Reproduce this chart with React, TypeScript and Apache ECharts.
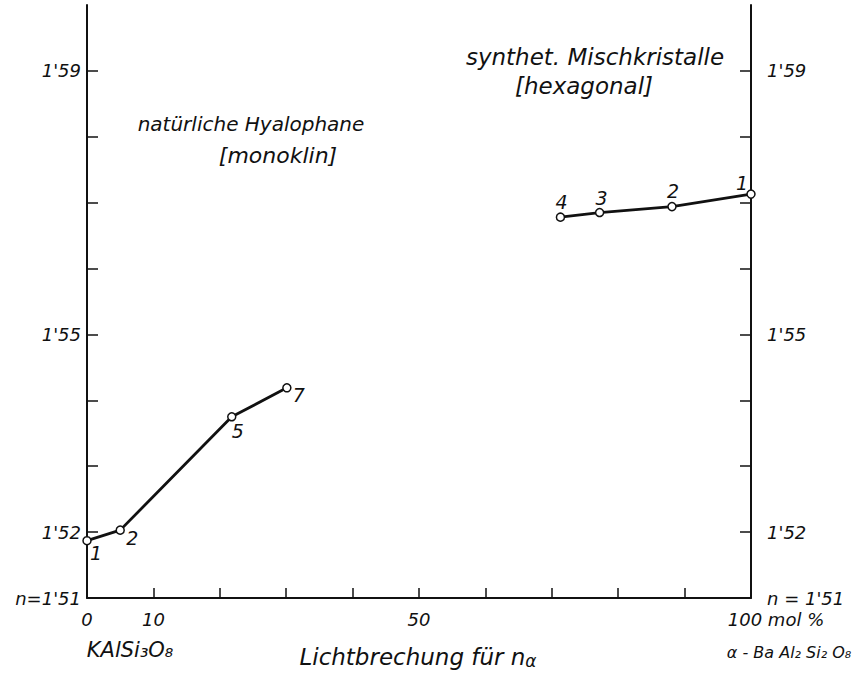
import React, { useEffect, useRef } from "react";
import * as echarts from "echarts";

// ---- data ----
const xTickValues = [10, 20, 30, 40, 50, 60, 70, 80, 90];
const xLabelValues = [0, 10, 50];
const yTickValues = [1.52, 1.53, 1.54, 1.55, 1.56, 1.57, 1.58, 1.59];
const yLabelValues = [1.51, 1.52, 1.55, 1.59];

const naturalIds = ["1", "2", "5", "7"];
const naturalX = [0, 5, 21.8, 30.1];
const naturalY = [1.5187, 1.5203, 1.5375, 1.5419];

const synthIds = ["4", "3", "2", "1"];
const synthX = [71.3, 77.2, 88.1, 100];
const synthY = [1.5678, 1.5685, 1.5694, 1.5713];

// ---- styles ----
const FONT = "'DejaVu Sans', sans-serif";
const INK = "#111";
const naturalLabelOffsets = [[9, 12], [12, 8], [6, 14], [12, 7]];
const synthLabelOffsets = [[1, -15], [2, -15], [1, -16], [-9, -11]];

function fmtY(v: number, right: boolean): string {
  const r = Math.round(v * 100);
  const s = "1'" + String(r - 100);
  if (r === 151) return right ? "n = " + s : "n=" + s;
  return s;
}

function buildData(xs: number[], ys: number[], ids: string[], offs: number[][]) {
  return xs.map((x, i) => ({
    value: [x, ys[i]],
    name: ids[i],
    label: {
      show: true,
      position: "inside",
      offset: offs[i],
      formatter: ids[i],
      fontFamily: FONT,
      fontStyle: "italic",
      fontSize: 19,
      color: INK,
    },
  }));
}

function txt(text: string, x: number, y: number, size: number, rich?: any) {
  return {
    type: "text",
    x,
    y,
    style: {
      text,
      font: `italic ${size}px ${FONT}`,
      fill: INK,
      align: "center",
      verticalAlign: "middle",
      ...(rich ? { rich } : {}),
    },
  };
}

export default function App() {
  const ref = useRef<HTMLDivElement>(null);
  useEffect(() => {
    if (!ref.current) return;
    const chart = echarts.init(ref.current, null, { renderer: "svg" });
    const axisLabelBase = {
      fontFamily: FONT,
      fontStyle: "italic" as const,
      fontSize: 18,
      color: INK,
    };
    const yAxisCommon = (right: boolean) => ({
      type: "value",
      min: 1.51,
      max: 1.6,
      interval: 0.01,
      position: right ? "right" : "left",
      splitLine: { show: false },
      axisLine: { show: true, lineStyle: { color: INK, width: 2 } },
      axisTick: {
        show: true,
        inside: true,
        length: 11,
        customValues: yTickValues,
        lineStyle: { color: INK, width: 1.5 },
      },
      axisLabel: {
        ...axisLabelBase,
        customValues: yLabelValues,
        margin: right ? 16 : 6,
        formatter: (v: number) => fmtY(v, right),
      },
    });
    const series = [
      { ids: naturalIds, xs: naturalX, ys: naturalY, offs: naturalLabelOffsets },
      { ids: synthIds, xs: synthX, ys: synthY, offs: synthLabelOffsets },
    ].map((s) => ({
      type: "line",
      clip: false,
      data: buildData(s.xs, s.ys, s.ids, s.offs),
      symbol: "circle",
      symbolSize: 8,
      showAllSymbol: true,
      lineStyle: { color: INK, width: 2.8 },
      itemStyle: { color: "#fff", borderColor: INK, borderWidth: 1.5 },
      z: 5,
    }));

    chart.setOption({
      animation: false,
      backgroundColor: "#fff",
      grid: { left: 87, right: 102, top: 5, bottom: 77, outerBoundsMode: "none", containLabel: false },
      xAxis: {
        type: "value",
        min: 0,
        max: 100,
        interval: 10,
        splitLine: { show: false },
        axisLine: { show: true, lineStyle: { color: INK, width: 1.8 } },
        axisTick: {
          show: true,
          inside: true,
          length: 10,
          customValues: xTickValues,
          lineStyle: { color: INK, width: 1.5 },
        },
        axisLabel: {
          ...axisLabelBase,
          customValues: xLabelValues,
          margin: 12,
          formatter: (v: number) => String(Math.round(v)),
        },
      },
      yAxis: [yAxisCommon(false), yAxisCommon(true)],
      series,
      graphic: [
        txt("natürliche Hyalophane", 251, 124, 20),
        txt("[monoklin]", 278, 155, 22),
        txt("synthet. Mischkristalle", 595, 57, 23),
        txt("[hexagonal]", 584, 86, 23),
        txt("KAlSi₃O₈", 130, 650, 21),
        txt("100 mol %", 776, 619, 18),
        txt("α - Ba Al₂ Si₂ O₈", 789, 652, 16),
        txt("Lichtbrechung für n{s|α}", 418, 657, 23, {
          s: { font: `italic 17px ${FONT}`, fill: INK, padding: [8, 0, 0, 0] },
        }),
      ],
    });
    return () => chart.dispose();
  }, []);
  return (
    <div
      ref={ref}
      style={{ position: "fixed", left: 0, top: 0, width: 853, height: 675, background: "#fff" }}
    />
  );
}
